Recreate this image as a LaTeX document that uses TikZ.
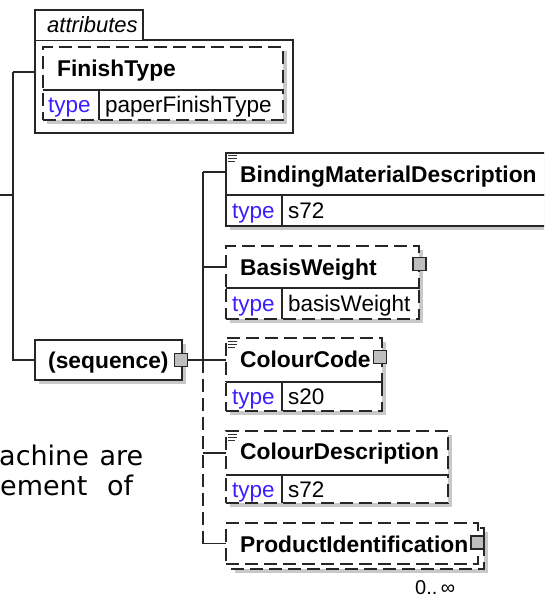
\documentclass[tikz,border=0pt]{standalone}
\usepackage{fontspec}
\setmainfont{Liberation Sans}
\newfontfamily\dejavu{DejaVu Sans}
\usetikzlibrary{shadows}
\definecolor{shade}{RGB}{200,200,200}
\definecolor{typeblue}{RGB}{60,30,255}
\definecolor{sqgray}{RGB}{190,190,190}
\begin{document}
\begin{tikzpicture}[x=1pt,y=-1pt,
  ln/.style={line width=1.5pt, draw=black!85},
  plainbox/.style={ln, fill=white, inner sep=0pt, outer sep=0pt, anchor=north west},
  box/.style={plainbox, drop shadow={shadow xshift=4pt, shadow yshift=-4pt, fill=shade, opacity=1}},
  opt/.style={dash pattern=on 13pt off 6pt},
  ename/.style={font=\fontsize{22.8}{26}\selectfont\bfseries, anchor=base west, inner sep=0pt},
  tkey/.style={font=\fontsize{22.5}{26}\selectfont, text=typeblue, anchor=base west, inner sep=0pt},
  tval/.style={font=\fontsize{22.5}{26}\selectfont, anchor=base west, inner sep=0pt},
  sqr/.style={ln, line width=1.2pt, fill=sqgray, minimum size=13pt, inner sep=0pt},
  docl/.style={line width=0.9pt, draw=black!80},
]
\useasboundingbox (0,0) rectangle (544,599);
\clip (0,0) rectangle (544,599);

% ---------- attributes container ----------
\node[plainbox, minimum width=258pt, minimum height=93pt] (attrs) at (35,40) {};
\draw[ln, fill=white] (35,40) -- (35,10) -- (143,10) -- (143,40);
\node[anchor=base west, inner sep=0pt, font=\fontsize{22}{26}\selectfont\itshape] (attrlbl) at (47,33) {attributes};

% FinishType
\node[box, opt, minimum width=240pt, minimum height=43pt] (ft) at (43,47) {};
\node[box, opt, minimum width=240pt, minimum height=30pt] (ftrow) at (43,90) {};
\draw[ln] (43,90) -- (283,90);
\draw[ln] (99,90) -- (99,120);
\node[ename] (ftname) at (57,77) {FinishType};
\node[tkey] (ftkey) at (48,113) {type};
\node[tval] (ftval) at (105,113) {paperFinishType};

% ---------- sequence ----------
\node[box, minimum width=147pt, minimum height=40pt] (seq) at (35,340) {};
\node[ename] (seqname) at (48,368) {(sequence)};
\node[sqr] (seqsq) at (181,360) {};

% ---------- BindingMaterialDescription ----------
\node[box, minimum width=334pt, minimum height=42pt] (bmd) at (226,153) {};
\node[box, minimum width=334pt, minimum height=31pt] (bmdrow) at (226,195) {};
\draw[ln] (282,195) -- (282,226);
\draw[docl] (228,155) -- (237,155) (228,158) -- (237,158) (228,161) -- (235,161);
\node[ename] (bmdname) at (240,182) {BindingMaterialDescription};
\node[tkey] (bmdkey) at (232,218) {type};
\node[tval] (bmdval) at (288,218) {s72};

% ---------- BasisWeight ----------
\node[box, opt, minimum width=193pt, minimum height=42pt] (bw) at (226,246) {};
\node[box, opt, minimum width=193pt, minimum height=31pt] (bwrow) at (226,288) {};
\draw[ln] (226,288) -- (419,288);
\draw[ln] (282,288) -- (282,319);
\node[ename] (bwname) at (240,275) {BasisWeight};
\node[tkey] (bwkey) at (232,311) {type};
\node[tval] (bwval) at (288,311) {basisWeight};
\node[sqr] (bwsq) at (419.5,264) {};

% ---------- ColourCode ----------
\node[box, opt, minimum width=156pt, minimum height=44pt] (cc) at (226,338) {};
\node[box, opt, minimum width=156pt, minimum height=29pt] (ccrow) at (226,382) {};
\draw[ln] (226,382) -- (382,382);
\draw[ln] (282,382) -- (282,411);
\draw[docl] (228,341) -- (237,341) (228,344) -- (237,344) (228,347) -- (235,347);
\node[ename] (ccname) at (240,367) {ColourCode};
\node[tkey] (cckey) at (232,404) {type};
\node[tval] (ccval) at (288,404) {s20};
\node[sqr] (ccsq) at (380,357) {};

% ---------- ColourDescription ----------
\node[box, opt, minimum width=222pt, minimum height=44pt] (cd) at (226,431) {};
\node[box, opt, minimum width=222pt, minimum height=28pt] (cdrow) at (226,475) {};
\draw[ln] (226,475) -- (448,475);
\draw[ln] (282,475) -- (282,503);
\draw[docl] (228,434) -- (237,434) (228,437) -- (237,437) (228,440) -- (235,440);
\node[ename] (cdname) at (240,459) {ColourDescription};
\node[tkey] (cdkey) at (232,497) {type};
\node[tval] (cdval) at (288,497) {s72};

% ---------- ProductIdentification ----------
\node[box, opt, minimum width=253pt, minimum height=41pt] (piback) at (231,528) {};
\node[plainbox, opt, minimum width=252pt, minimum height=41pt] (pi) at (226,523) {};
\node[ename] (piname) at (240,552) {ProductIdentification};
\node[sqr] (pisq) at (477.5,542.5) {};
\node[anchor=base west, inner sep=0pt, font=\fontsize{20}{22}\selectfont] (occ) at (415,594) {0..\,∞};

% ---------- connectors ----------
\coordinate (in) at (0,195);
\coordinate (k) at (13,195);
\coordinate (attrin) at (35,72);
\coordinate (j1) at (203,172);
\coordinate (j2) at (203,360);
\draw[ln] (in) -- (k);
\draw[ln] (attrin -| k) -- (attrin);
\draw[ln] (attrin -| k) -- (seq.west -| k) -- (seq.west);
\draw[ln] (seqsq.east) -- (j2);
\draw[ln] (j1) -- (j2);
\draw[ln, opt] (j2) -- (pi.west -| j2);
\draw[ln] (j1) -- (j1 -| bmd.west);
\draw[ln] (bw.west -| j2) -- (bw.west);
\draw[ln] (j2) -- (cc.west);
\draw[ln] (cd.west -| j2) -- (cd.west);
\draw[ln] (pi.west -| j2) -- (pi.west);

% ---------- cut-off text ----------
\node[anchor=base west, inner sep=0pt, font=\dejavu\fontsize{27}{32}\selectfont] (t1) at (-1,465) {\makebox[144pt][s]{achine are}};
\node[anchor=base west, inner sep=0pt, font=\dejavu\fontsize{27}{32}\selectfont] (t2) at (0,495) {\makebox[133pt][s]{ement of}};
\end{tikzpicture}
\end{document}
